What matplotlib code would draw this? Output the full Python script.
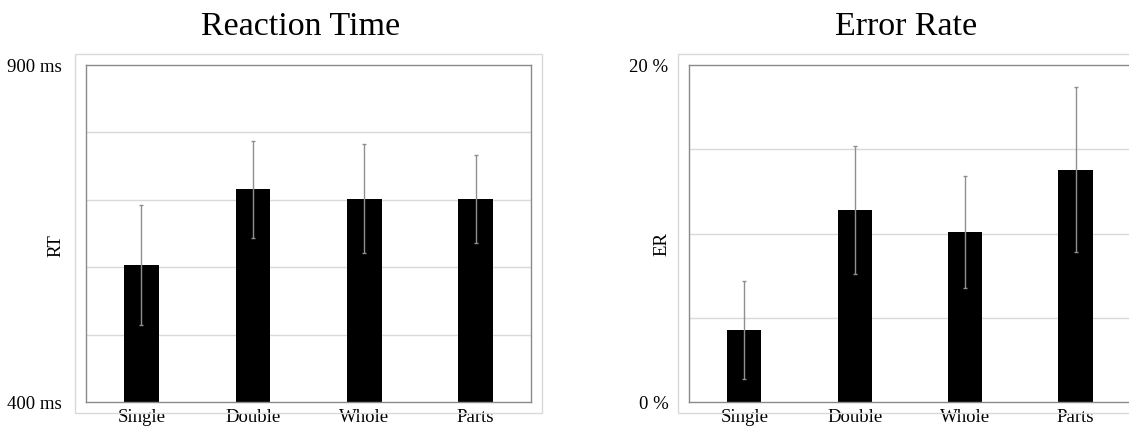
import matplotlib
matplotlib.use('Agg')
import matplotlib.pyplot as plt
from matplotlib.patches import Rectangle

plt.rcParams['font.family'] = ['Liberation Serif', 'DejaVu Serif']

categories = ['Single', 'Double', 'Whole', 'Parts']
rt_mean = [603, 716, 702, 701]
rt_err = [89, 72, 81, 65]
er_mean = [4.3, 11.4, 10.1, 13.8]
er_err = [2.9, 3.8, 3.3, 4.9]

W, H = 1129, 426
fig = plt.figure(figsize=(W / 100, H / 100), dpi=100)

# light outer frames (chart areas)
for x0, x1 in [(75, 542), (678, 1140)]:
  fig.patches.append(Rectangle((x0 / W, 1 - 413 / H), (x1 - x0) / W, (413 - 54) / H,
                               transform=fig.transFigure, fill=False,
                               edgecolor='#d9d9d9', linewidth=1))

ax1 = fig.add_axes([85.7 / W, 1 - 402.3 / H, 445.7 / W, 337.3 / H])
ax2 = fig.add_axes([689.2 / W, 1 - 402.3 / H, 441.5 / W, 337.3 / H])

def draw(ax, means, errs, ylim, grid, ticks, ticklabels, ylabel, ypad):
  x = range(len(categories))
  ax.bar(x, means, width=0.31, color='black', zorder=2)
  ax.errorbar(x, means, yerr=errs, fmt='none', ecolor='#8f8f8f',
              elinewidth=1, capsize=1.5, capthick=1, zorder=3)
  ax.set_ylim(*ylim)
  ax.set_xlim(-0.5, 3.5)
  for g in grid:
    ax.axhline(g, color='#d9d9d9', linewidth=1, zorder=1)
  ax.set_yticks(ticks)
  ax.set_yticklabels(ticklabels, fontsize=13.5)
  ax.set_xticks(list(x))
  ax.set_xticklabels(categories, fontsize=13.5)
  for t in ax.get_xticklabels():
    t.set_bbox(dict(facecolor='white', edgecolor='none', pad=0.5))
  ax.tick_params(axis='both', length=0)
  ax.tick_params(axis='y', pad=ypad)
  ax.tick_params(axis='x', pad=5)
  for s in ax.spines.values():
    s.set_color('#8a8a8a')
    s.set_linewidth(1)
  ax.set_ylabel(ylabel, fontsize=13.5)

draw(ax1, rt_mean, rt_err, (400, 900), [500, 600, 700, 800],
     [400, 900], ['400 ms', '900 ms'], 'RT', 17)
ax1.yaxis.set_label_coords(-0.047, 0.466)

draw(ax2, er_mean, er_err, (0, 20), [5, 10, 15],
     [0, 20], ['0 %', '20 %'], 'ER', 15)
ax2.spines['right'].set_visible(False)
ax2.yaxis.set_label_coords(-0.043, 0.47)

fig.text(301 / W, 1 - 27 / H, 'Reaction Time', fontsize=24.5, ha='center', va='center')
fig.text(906 / W, 1 - 27 / H, 'Error Rate', fontsize=24.5, ha='center', va='center')

plt.savefig('out.png', dpi=100)
